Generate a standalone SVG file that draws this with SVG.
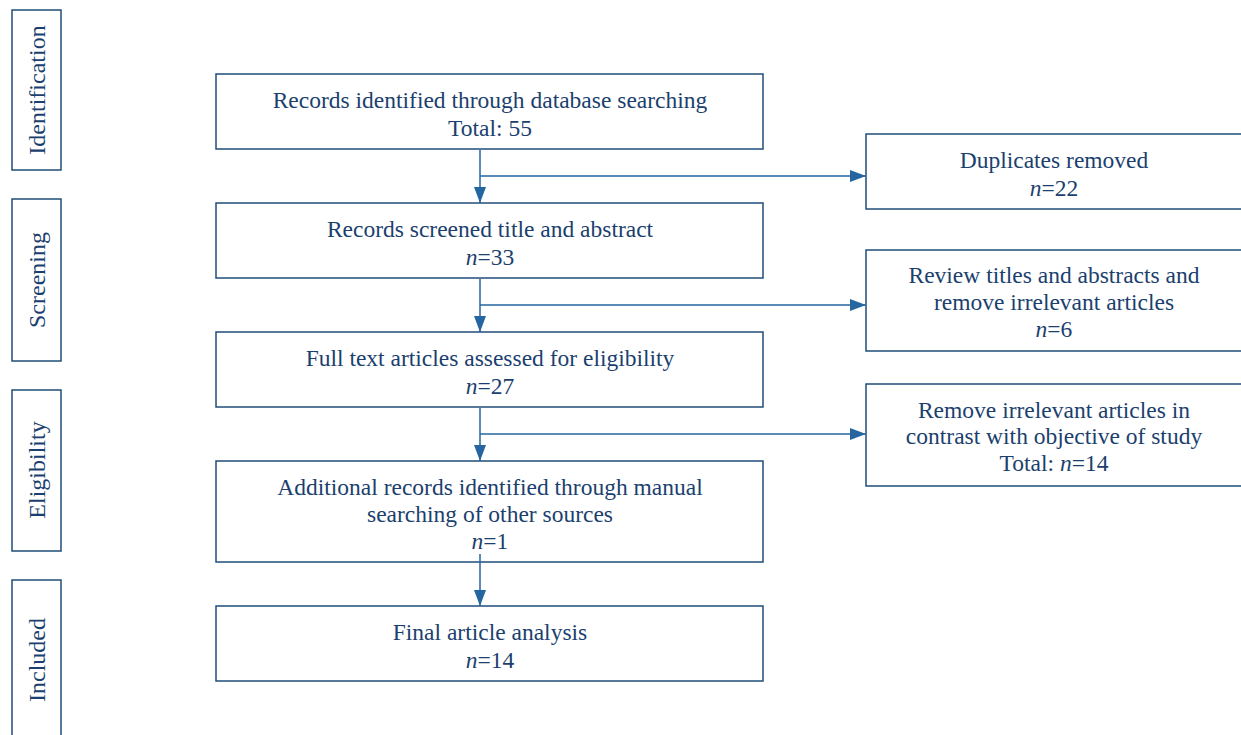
<svg xmlns="http://www.w3.org/2000/svg" width="1241" height="735" viewBox="0 0 1241 735">
<defs>
<style>
.box{fill:#fff;stroke:#1f4e79;stroke-width:1.5}
.t{font-family:"Liberation Serif",serif;font-size:23.5px;fill:#1b3f6e;text-anchor:middle}
.s{font-size:24px}
.n{font-style:italic}
.c{stroke:#2566a0;stroke-width:1.5;fill:none}
</style>
<marker id="ah" viewBox="0 0 16 12" refX="16" refY="6" markerWidth="16" markerHeight="12" markerUnits="userSpaceOnUse" orient="auto">
<path d="M0,0 L16,6 L0,12 z" fill="#2566a0"/>
</marker>
</defs>
<rect width="1241" height="735" fill="#fff"/>
<g id="side-identification"><rect class="box" x="12" y="10" width="49" height="160"/><text class="t s" transform="translate(45,90) rotate(-90)">Identification</text></g>
<g id="side-screening"><rect class="box" x="12" y="199" width="49" height="162"/><text class="t s" transform="translate(45,280) rotate(-90)">Screening</text></g>
<g id="side-eligibility"><rect class="box" x="12" y="390" width="49" height="161"/><text class="t s" transform="translate(45,470) rotate(-90)">Eligibility</text></g>
<g id="side-included"><rect class="box" x="12" y="580" width="49" height="165"/><text class="t s" transform="translate(45,660) rotate(-90)">Included</text></g>

<g id="box1"><rect class="box" x="216" y="74" width="547" height="75"/><text class="t" x="490" y="108">Records identified through database searching</text><text class="t" x="490" y="136">Total: 55</text></g>
<g id="box2"><rect class="box" x="216" y="203" width="547" height="75"/><text class="t" x="490" y="237">Records screened title and abstract</text><text class="t" x="490" y="265"><tspan class="n">n</tspan>=33</text></g>
<g id="box3"><rect class="box" x="216" y="332" width="547" height="75"/><text class="t" x="490" y="366">Full text articles assessed for eligibility</text><text class="t" x="490" y="394"><tspan class="n">n</tspan>=27</text></g>
<g id="box4"><rect class="box" x="216" y="461" width="547" height="101"/><text class="t" x="490" y="495">Additional records identified through manual</text><text class="t" x="490" y="522">searching of other sources</text><text class="t" x="490" y="549"><tspan class="n">n</tspan>=1</text></g>
<g id="box5"><rect class="box" x="216" y="606" width="547" height="75"/><text class="t" x="490" y="640">Final article analysis</text><text class="t" x="490" y="668"><tspan class="n">n</tspan>=14</text></g>

<g id="rbox1"><rect class="box" x="866" y="134" width="380" height="75"/><text class="t" x="1054" y="168">Duplicates removed</text><text class="t" x="1054" y="196"><tspan class="n">n</tspan>=22</text></g>
<g id="rbox2"><rect class="box" x="866" y="250" width="380" height="101"/><text class="t" x="1054" y="283">Review titles and abstracts and</text><text class="t" x="1054" y="310">remove irrelevant articles</text><text class="t" x="1054" y="337"><tspan class="n">n</tspan>=6</text></g>
<g id="rbox3"><rect class="box" x="866" y="384" width="380" height="102"/><text class="t" x="1054" y="418">Remove irrelevant articles in</text><text class="t" x="1054" y="444">contrast with objective of study</text><text class="t" x="1054" y="471">Total: <tspan class="n">n</tspan>=14</text></g>

<g id="connectors">
<line class="c" x1="480" y1="150" x2="480" y2="203" marker-end="url(#ah)"/>
<line class="c" x1="480" y1="176" x2="866" y2="176" marker-end="url(#ah)"/>
<line class="c" x1="480" y1="279" x2="480" y2="332" marker-end="url(#ah)"/>
<line class="c" x1="480" y1="305" x2="866" y2="305" marker-end="url(#ah)"/>
<line class="c" x1="480" y1="408" x2="480" y2="461" marker-end="url(#ah)"/>
<line class="c" x1="480" y1="434" x2="866" y2="434" marker-end="url(#ah)"/>
<line class="c" x1="480" y1="554" x2="480" y2="606" marker-end="url(#ah)"/>
</g>
</svg>
